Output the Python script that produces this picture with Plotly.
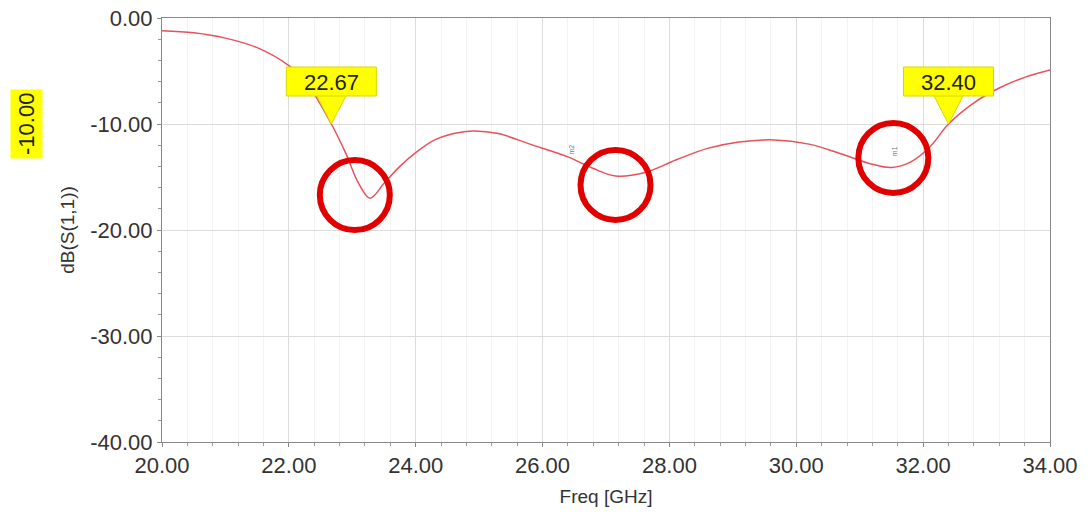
import plotly.graph_objects as go

# Curve data: frequency (GHz) and dB(S(1,1))
freq = [20.0, 20.5, 21.0, 21.5, 22.0, 22.3, 22.67, 22.9, 23.1, 23.28, 23.5, 23.75, 24.0,
        24.3, 24.6, 24.9, 25.3, 25.8, 26.4, 26.8, 27.15, 27.6, 28.1, 28.6, 29.1, 29.65,
        30.2, 30.7, 31.2, 31.5, 31.8, 32.1, 32.4, 32.8, 33.2, 33.6, 34.0]
s11_db = [-1.2, -1.4, -1.9, -2.8, -4.5, -6.3, -10.0, -12.8, -15.6, -17.0, -15.6, -14.0, -12.7,
          -11.5, -10.9, -10.65, -10.9, -11.9, -13.1, -14.2, -14.9, -14.6, -13.4, -12.3, -11.7, -11.5,
          -11.9, -12.8, -13.8, -14.1, -13.6, -12.2, -10.0, -8.0, -6.6, -5.6, -4.9]

# Markers
marker_freq = [22.67, 32.40]
marker_db = [-10.0, -10.0]
marker_text = ["22.67", "32.40"]

# Highlight circles (centre freq, centre dB)
circle_freq = [23.04, 27.15, 31.53]
circle_db = [-16.7, -15.75, -13.2]

# Small trace labels
small_lbl_freq = [26.45, 31.55]
small_lbl_db = [-12.4, -12.6]
small_lbl_text = ["m2", "m1"]

x_ticks = [20, 22, 24, 26, 28, 30, 32, 34]
y_ticks = [0, -10, -20, -30, -40]

fig = go.Figure()
fig.add_trace(go.Scatter(x=freq, y=s11_db, mode="lines",
                         line=dict(color="#e8505a", width=1.5, shape="spline", smoothing=1.0),
                         hoverinfo="skip", showlegend=False))

shapes = []
annotations = []
for fx, fy in zip(circle_freq, circle_db):
    shapes.append(dict(type="circle", xref="x", yref="y", xsizemode="pixel", ysizemode="pixel",
                       xanchor=fx, yanchor=fy, x0=-35, x1=35, y0=-35, y1=35,
                       line=dict(color="#e00000", width=6)))

for mx, my, mt in zip(marker_freq, marker_db, marker_text):
    shapes.append(dict(type="path", xref="x", yref="y", xsizemode="pixel", ysizemode="pixel",
                       xanchor=mx, yanchor=my,
                       path="M -15 29 L 15 29 L 0 0 Z",
                       fillcolor="#ffff00", line=dict(color="#d8d800", width=1)))
    shapes.append(dict(type="rect", xref="x", yref="y", xsizemode="pixel", ysizemode="pixel",
                       xanchor=mx, yanchor=my, x0=-45, x1=45, y0=28, y1=57,
                       fillcolor="#ffff00", line=dict(color="#d8d800", width=1)))
    annotations.append(dict(x=mx, y=my, xref="x", yref="y", text=mt, showarrow=False,
                            yshift=42, font=dict(family="Liberation Sans, Arial", size=22, color="#222222")))

for lx, ly, lt in zip(small_lbl_freq, small_lbl_db, small_lbl_text):
    annotations.append(dict(x=lx, y=ly, xref="x", yref="y", text=lt, showarrow=False,
                            textangle=-90, font=dict(family="Liberation Sans, Arial", size=7, color="#777777")))

annotations.append(dict(x=(26 - 162) / 888, y=-10, xref="paper", yref="y", text="-10.00",
                        showarrow=False, xanchor="center", yanchor="middle",
                        textangle=-90, bgcolor="#ffff00", borderpad=3,
                        font=dict(family="Liberation Sans, Arial", size=22, color="#222222")))

fig.update_layout(
    width=1088, height=516,
    margin=dict(l=162, r=38, t=18, b=74),
    plot_bgcolor="white", paper_bgcolor="white",
    shapes=shapes, annotations=annotations,
    font=dict(family="Liberation Sans, Arial", color="#333333"),
    xaxis=dict(range=[20, 34], tickvals=x_ticks, ticktext=[f"{v:.2f}" for v in x_ticks],
               tickfont=dict(size=22, color="#333333"), automargin=False,
               showline=True, linecolor="#888888", linewidth=1, mirror=True,
               showgrid=True, gridcolor="#dcdcdc", gridwidth=1,
               ticks="outside", ticklen=4, tickcolor="#888888",
               minor=dict(dtick=0.4, ticks="outside", ticklen=3, tickcolor="#999999",
                          showgrid=True, gridcolor="#f3f3f3"),
               zeroline=False,
               title=dict(text="Freq [GHz]", font=dict(size=19, color="#333333"), standoff=12)),
    yaxis=dict(range=[-40, 0], tickvals=y_ticks, ticktext=[f"{v:.2f}" for v in y_ticks],
               tickfont=dict(size=22, color="#333333"), automargin=False,
               showline=True, linecolor="#888888", linewidth=1, mirror=True,
               showgrid=True, gridcolor="#dcdcdc", gridwidth=1,
               ticks="outside", ticklen=4, tickcolor="#888888",
               minor=dict(dtick=2, ticks="outside", ticklen=3, tickcolor="#999999",
                          showgrid=False),
               zeroline=False,
               title=dict(text="dB(S(1,1))", font=dict(size=19, color="#333333"), standoff=10)),
)

fig.write_html("out.html")
